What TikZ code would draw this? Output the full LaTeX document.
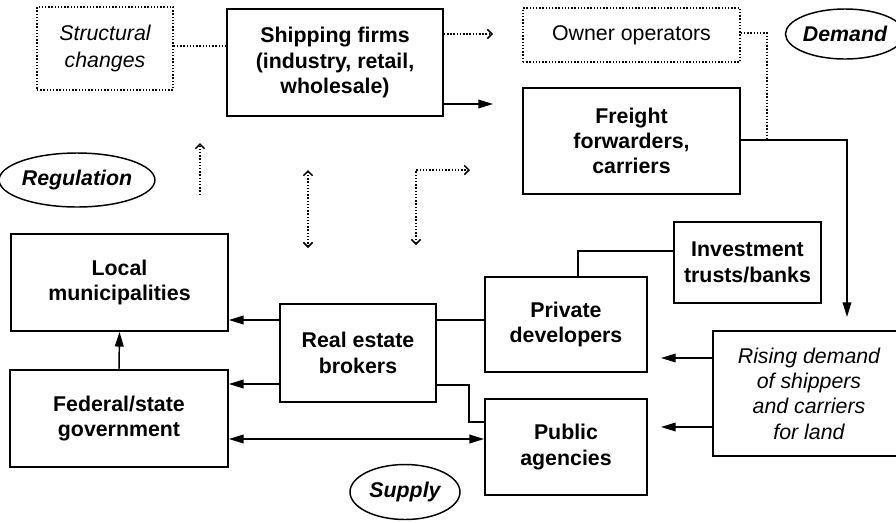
\documentclass[tikz,border=0pt]{standalone}
\usepackage{fontspec}
\setmainfont{Liberation Sans}
\usetikzlibrary{arrows.meta,shapes.geometric}
\begin{document}
\begin{tikzpicture}[x=0.75pt,y=-0.75pt,
 sz/.style 2 args={minimum width=#1*0.75pt, minimum height=#2*0.75pt},
 box/.style={draw, line width=1.3pt, inner sep=0pt, align=center, font=\fontsize{16}{19}\selectfont\bfseries},
 dbox/.style={draw, line width=1.1pt, dash pattern=on 1.1pt off 1.3pt, inner sep=0pt, align=center, font=\fontsize{16}{19}\selectfont},
 ibox/.style={box, font=\fontsize{16}{19}\selectfont\itshape},
 oval/.style={draw, ellipse, line width=1.1pt, inner sep=0pt, font=\fontsize{16}{19}\selectfont\bfseries\itshape},
 conn/.style={line width=1.1pt},
 arr/.style={conn, -{Triangle[length=11pt,width=6.5pt]}},
 darr/.style={conn, {Triangle[length=11pt,width=6.5pt]}-{Triangle[length=11pt,width=6.5pt]}},
 dot/.style={line width=1.1pt, dash pattern=on 1.1pt off 1.3pt},
 dtip/.style={dot, -{Straight Barb[length=3.5pt,width=7pt]}},
 ddtip/.style={dot, {Straight Barb[length=3.5pt,width=7pt]}-{Straight Barb[length=3.5pt,width=7pt]}},
]
\useasboundingbox (0,0) rectangle (896,522);

% nodes
\node[dbox, sz={136}{83}, font=\fontsize{16}{20}\selectfont\itshape] (struct) at (105,48.5) {Structural\\changes};
\node[box, sz={216}{107}] (ship) at (335,62.5) {Shipping firms\\(industry, retail,\\wholesale)};
\node[dbox, sz={217}{54}] (owner) at (631.5,35) {Owner operators};
\node[box, sz={217}{106}] (freight) at (631.5,141) {Freight\\forwarders,\\carriers};
\node[oval, sz={102}{50}] (demand) at (845,34) {Demand};
\node[oval, sz={140}{54}] (regul) at (77,180) {Regulation};
\node[box, sz={217}{97}] (local) at (119.5,282.5) {Local\\municipalities};
\node[box, sz={218}{97}] (federal) at (119,418.5) {Federal/state\\government};
\node[box, sz={156}{98}] (brokers) at (358,353) {Real estate\\brokers};
\node[box, sz={162}{95}] (private) at (566,324.5) {Private\\developers};
\node[box, sz={162}{96}] (public) at (566,447) {Public\\agencies};
\node[box, sz={147}{81}] (invest) at (747.5,262.5) {Investment\\trusts/banks};
\node[ibox, sz={192}{125}] (rising) at (809,393.5) {Rising demand\\of shippers\\and carriers\\for land};
\node[oval, sz={110}{55}] (supply) at (405,492) {Supply};

% helper coordinates
\coordinate (y320) at (0,320);
\coordinate (y384) at (0,384);
\coordinate (y439) at (0,439);
\coordinate (y46) at (0,46);

% top connectors
\draw[dot] (struct.east |- y46) -- (ship.west |- y46);
\coordinate (c1) at (493,34);
\draw[dtip] (ship.east |- c1) -- (c1);
\coordinate (c2) at (493,104);
\draw[arr] (ship.east |- c2) -- (c2);
\coordinate (c3) at (767,33);
\coordinate (c4) at (767,140);
\draw[dot] (owner.east |- c3) -- (c3) -- (c4);
\coordinate (c5) at (847,140);
\coordinate (c6) at (847,317);
\draw[arr] (freight.east |- c5) -- (c5) -- (c6);

% dotted middle arrows
\coordinate (u1) at (200,195);
\coordinate (u2) at (200,143);
\draw[dtip] (u1) -- (u2);
\coordinate (v1) at (308,170);
\coordinate (v2) at (308,248);
\draw[ddtip] (v1) -- (v2);
\coordinate (w1) at (416,245);
\coordinate (w2) at (416,170);
\coordinate (w3) at (470,170);
\draw[ddtip] (w1) -- (w2) -- (w3);

% bottom connectors
\draw[arr] (brokers.west |- y320) -- (local.east |- y320);
\draw[arr] (brokers.west |- y384) -- (federal.east |- y384);
\draw[conn] (brokers.east |- y320) -- (private.west |- y320);
\coordinate (b1) at (469,385);
\coordinate (b2) at (469,422);
\draw[conn] (brokers.east |- b1) -- (b1) -- (b2) -- (public.west |- b2);
\draw[darr] (federal.east |- y439) -- (public.west |- y439);
\draw[arr] (federal.north) -- (local.south);
\coordinate (k) at (578,251);
\draw[conn] (invest.west |- k) -- (k) -- (k |- private.north);
\coordinate (r1) at (661,358);
\coordinate (r2) at (661,427);
\draw[arr] (rising.west |- r1) -- (r1);
\draw[arr] (rising.west |- r2) -- (r2);
\end{tikzpicture}
\end{document}
